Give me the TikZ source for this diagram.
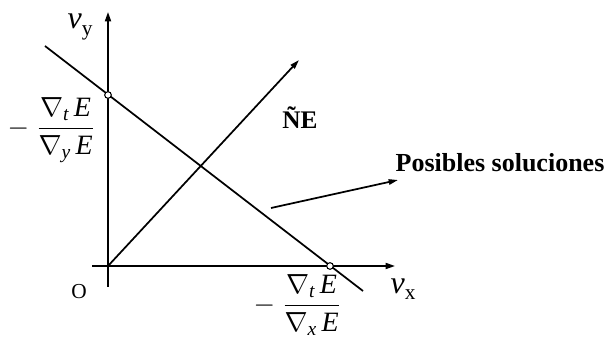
\documentclass[tikz,border=0pt]{standalone}
\usepackage{amsmath}
\usepackage{fontspec}
\setmainfont{Liberation Serif}
\usetikzlibrary{arrows.meta,calc,positioning}

\begin{document}
\begin{tikzpicture}[
    x=0.75pt, y=-0.75pt,
    axis/.style={line width=1.3pt, -{Triangle[length=7pt, width=4.5pt]}},
    line/.style={line width=1.3pt},
    arrow/.style={line width=1.3pt, -{Triangle[length=7pt, width=4pt]}},
    hole/.style={circle, draw, fill=white, line width=0.8pt, inner sep=0pt, minimum size=5pt},
    lbl/.style={inner sep=0pt, font=\fontsize{18}{20}\selectfont},
    frac/.style={inner sep=0pt, font=\fontsize{21}{24}\selectfont}
]
\useasboundingbox (0,0) rectangle (607,338);

% axes
\coordinate (O) at (108,266);
\coordinate (ybot) at (108,287);
\coordinate (ytop) at (108,12);
\coordinate (xleft) at (92,266);
\coordinate (xright) at (395,266);
\draw[axis] (ybot) -- (ytop);
\draw[axis] (xleft) -- (xright);

% constraint line
\coordinate (cstart) at (45,46);
\coordinate (cend) at (363,291);
\draw[line] (cstart) -- (cend);
\node[hole] (cy) at (108,95) {};
\node[hole] (cx) at (330,266) {};

% gradient
\coordinate (grad) at (299,60);
\draw[arrow] (O) -- (grad);

% labels
\node[lbl] (vy) at (80,27) {{\fontsize{24}{24}\selectfont\textit{v}}\raisebox{-5pt}{\fontsize{16}{18}\selectfont y}};
\node[lbl] (vx) at (403,289) {{\fontsize{24}{24}\selectfont\textit{v}}\raisebox{-5pt}{\fontsize{16}{18}\selectfont x}};
\node[lbl, font=\fontsize{16}{18}\selectfont] (orig) at (79,292) {O};
\node[frac] (fy) at (51,130) {$-\;\dfrac{\nabla_{\textit{t}}\,\textit{E}}{\nabla_{\textit{y}}\,\textit{E}}$};
\node[frac] (fx) at (297,305) {$-\;\dfrac{\nabla_{\textit{t}}\,\textit{E}}{\nabla_{\textit{x}}\,\textit{E}}$};
\node[lbl, font=\fontsize{19}{20}\selectfont\bfseries] (gradlbl) at (300,118) {ÑE};
\node[lbl, font=\fontsize{19.5}{22}\selectfont\bfseries] (sol) at (500,163) {Posibles soluciones};

% arrow to solutions
\coordinate (solfrom) at (271,208);
\coordinate (solto) at (398,180);
\draw[arrow] (solfrom) -- (solto);

\end{tikzpicture}
\end{document}
